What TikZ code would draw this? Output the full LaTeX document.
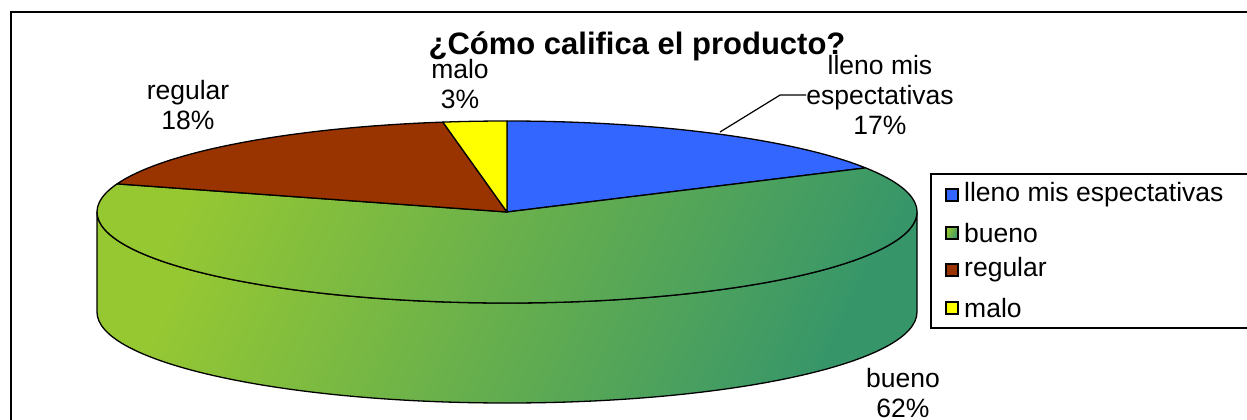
\documentclass[tikz,border=0pt]{standalone}
\usepackage{fontspec}
\setmainfont{Liberation Sans}
\definecolor{pblue}{RGB}{51,102,255}
\definecolor{pred}{RGB}{153,51,0}
\definecolor{pyel}{RGB}{255,255,0}
\definecolor{glight}{RGB}{150,200,50}
\definecolor{gmid}{RGB}{110,178,80}
\definecolor{gdark}{RGB}{55,150,105}
\tikzset{
  slice/.style={draw=black, line width=1.3pt, line join=round},
  greenshade/.style={left color=glight, middle color=gmid, right color=gdark, shading angle=65},
  lab/.style={align=center, inner sep=0pt, font=\fontsize{26.5}{30}\selectfont},
  legtext/.style={anchor=west, inner sep=0pt, font=\fontsize{26.5}{30}\selectfont},
  legsq/.style={draw=black, line width=1.2pt, minimum size=12pt, inner sep=0pt},
  leader/.style={draw=black, line width=1.2pt}
}
\begin{document}
\begin{tikzpicture}[x=1pt,y=1pt]
\useasboundingbox (0,-420) rectangle (1247,0);
\clip (0,-420) rectangle (1247,0);
\fill[white] (0,-420) rectangle (1247,0);
% outer frame
\draw[line width=1.5pt] (11,-12) rectangle (1300,-500);
% title
\node[font=\bfseries\fontsize{31}{36}\selectfont] (title) at (637,-46) {¿Cómo califica el producto?};
% pie
\begin{scope}[shift={(507,-212)}]
  % side wall
  \path[slice, greenshade] (180:410 and 91) -- ++(0,-100)
     arc[start angle=180, end angle=360, x radius=410, y radius=91]
     -- (0:410 and 91)
     arc[start angle=0, end angle=-180, x radius=410, y radius=91] -- cycle;
  % top slices
  \path[slice, fill=pblue] (0,0) -- (90:410 and 91)
     arc[start angle=90, end angle=29, x radius=410, y radius=91] -- cycle;
  \path[slice, greenshade] (0,0) -- (29:410 and 91)
     arc[start angle=29, end angle=-198, x radius=410, y radius=91] -- cycle;
  \path[slice, fill=pred] (0,0) -- (162:410 and 91)
     arc[start angle=162, end angle=99, x radius=410, y radius=91] -- cycle;
  \path[slice, fill=pyel] (0,0) -- (99:410 and 91)
     arc[start angle=99, end angle=90, x radius=410, y radius=91] -- cycle;
\end{scope}
% data labels
\node[lab] (lblblue) at (880,-95) {lleno mis\\espectativas\\17\%};
\node[lab] (lblmalo) at (460,-84) {malo\\3\%};
\node[lab] (lblreg) at (188,-105) {regular\\18\%};
\node[lab] (lblbueno) at (903,-393) {bueno\\62\%};
\coordinate (ls) at (720,-132);
\draw[leader] (ls) -- ([xshift=-26pt]lblblue.west) -- (lblblue.west);
% legend
\draw[line width=1.2pt] (931,-174) rectangle (1300,-328);
\node[legsq, fill=pblue] (sq1) at (952,-195) {};
\node[legsq, greenshade] (sq2) at (952,-233) {};
\node[legsq, fill=pred] (sq3) at (952,-270) {};
\node[legsq, fill=pyel] (sq4) at (952,-308) {};
\node[legtext] (lt1) at (964,-195) {lleno mis espectativas};
\node[legtext] (lt2) at (964,-233) {bueno};
\node[legtext] (lt3) at (964,-270) {regular};
\node[legtext] (lt4) at (964,-308) {malo};
\end{tikzpicture}
\end{document}
